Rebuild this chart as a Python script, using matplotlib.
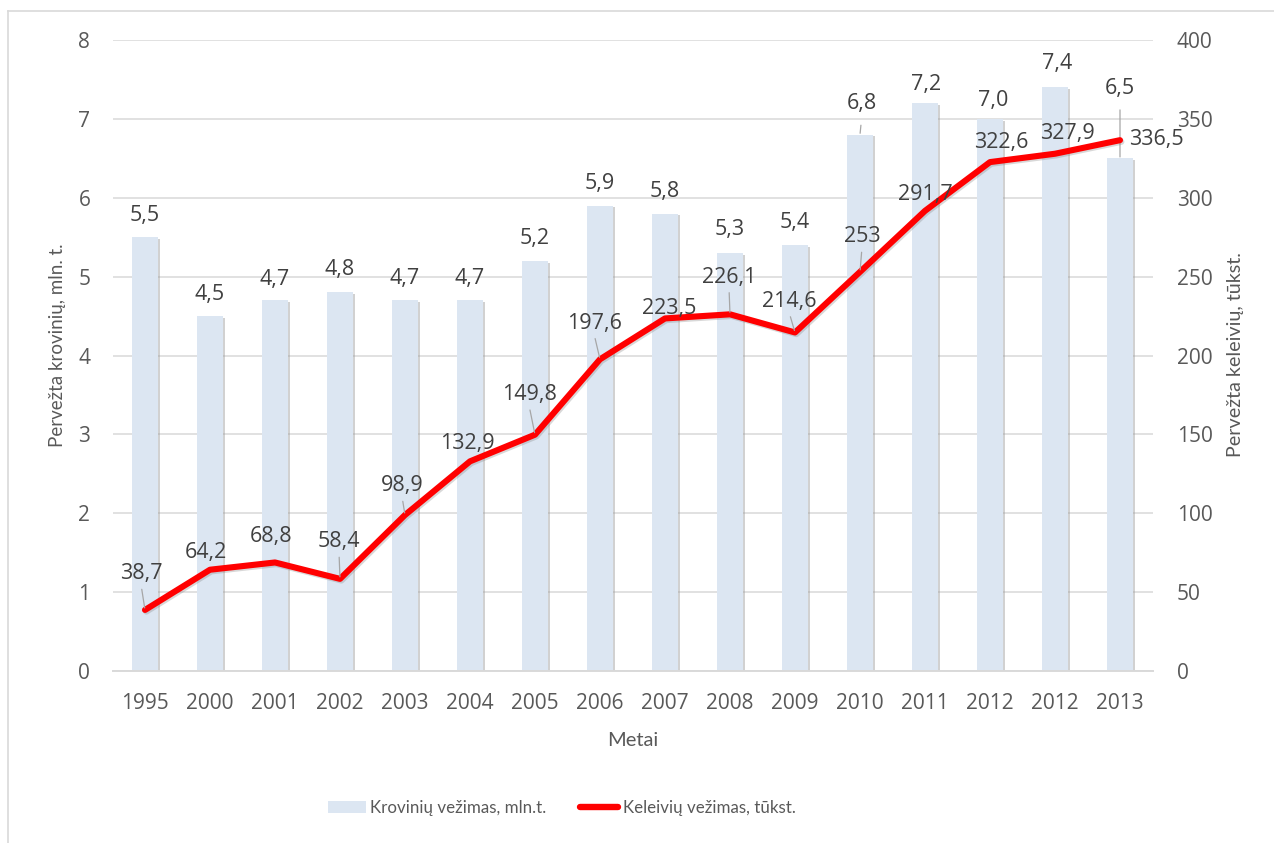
import matplotlib
matplotlib.use("Agg")
import matplotlib.pyplot as plt
from matplotlib.patches import Patch
from matplotlib.lines import Line2D
import matplotlib.patheffects as pe

# ---- data ----
years = ['1995', '2000', '2001', '2002', '2003', '2004', '2005', '2006',
         '2007', '2008', '2009', '2010', '2011', '2012', '2012', '2013']
cargo = [5.5, 4.5, 4.7, 4.8, 4.7, 4.7, 5.2, 5.9, 5.8, 5.3, 5.4, 6.8, 7.2, 7.0, 7.4, 6.5]
passengers = [38.7, 64.2, 68.8, 58.4, 98.9, 132.9, 149.8, 197.6, 223.5, 226.1,
              214.6, 253, 291.7, 322.6, 327.9, 336.5]
left_ticks = [0, 1, 2, 3, 4, 5, 6, 7, 8]
right_ticks = [0, 50, 100, 150, 200, 250, 300, 350, 400]

# ---- label placement (pixel offsets of text centre from the mark) ----
line_lbl_dx = [-4, -4, -4, -1, -3, -3, -6, -6, 4, -1, -6, 2, 0, 11, 12, 36]
line_lbl_dy = [38, 19, 28, 39, 31, 20, 42, 38, 12, 39, 33, 37, 18, 22, 22, 3]
line_leader = [1, 0, 0, 1, 1, 0, 1, 1, 0, 1, 1, 1, 0, 0, 0, 0]
bar_lbl_dx = [0, 0, 0, 0, 0, 0, 0, 0, 0, 0, 0, 2, 1, 3, 2, 0]
bar_lbl_dy = [24, 24, 23, 25, 24, 24, 24, 24, 24, 25, 25, 33, 21, 20, 26, 72]
bar_leader = [0, 0, 0, 0, 0, 0, 0, 0, 0, 0, 0, 1, 0, 0, 0, 1]

FONT = ['Open Sans', 'DejaVu Sans']
TFONT = ['Lato', 'Open Sans', 'DejaVu Sans']
plt.rcParams['font.family'] = FONT

W, H = 1274, 843
fig = plt.figure(figsize=(W / 100, H / 100), dpi=100)
fig.patch.set_facecolor('white')

ax = fig.add_axes([112.5 / W, 1 - 671 / H, (1152.5 - 112.5) / W, (671 - 40) / H])
ax2 = ax.twinx()

x = list(range(len(years)))
grid_c = '#d9d9d9'
tick_c = '#595959'
lbl_c = '#404040'

bars = ax.bar(x, cargo, width=0.41, color='#dce6f2', zorder=2,
              path_effects=[pe.SimplePatchShadow(offset=(1.2, -1.2), shadow_rgbFace='#9a9a9a', alpha=0.45),
                            pe.Normal()])

ax.set_xlim(-0.5, len(years) - 0.5)
ax.set_ylim(0, 8)
ax.set_yticks(left_ticks)
ax.set_yticklabels([str(t) for t in left_ticks])
ax.set_xticks(x)
ax.set_xticklabels(years)
ax.yaxis.grid(True, color=grid_c, lw=1.1, zorder=0)
ax.set_axisbelow(True)
for s in ['top', 'right', 'left']:
    ax.spines[s].set_visible(False)
    ax2.spines[s].set_visible(False)
ax.spines['bottom'].set_color(grid_c)
ax.spines['bottom'].set_linewidth(1.4)
ax2.spines['bottom'].set_visible(False)
ax.tick_params(axis='both', length=0, labelsize=15, labelcolor=tick_c)
ax.tick_params(axis='x', pad=16)
ax.tick_params(axis='y', pad=16)

ax2.set_ylim(0, 400)
ax2.set_yticks(right_ticks)
ax2.set_yticklabels([str(t) for t in right_ticks])
ax2.tick_params(axis='y', length=0, labelsize=15, labelcolor=tick_c, pad=17.5)

ax2.plot(x, passengers, color='#ff0000', lw=4.4, solid_capstyle='round',
         solid_joinstyle='round', zorder=5,
         path_effects=[pe.SimpleLineShadow(offset=(1.0, -1.2), shadow_color='#808080', alpha=0.3),
                       pe.Normal()])

def fmt(v, dec=None):
    s = f"{v:.{dec}f}" if dec is not None else f"{v:g}"
    return s.replace('.', ',')

# bar labels
for i, v in enumerate(cargo):
    kw = dict(xy=(i, v), xycoords='data', textcoords='offset pixels',
              xytext=(bar_lbl_dx[i], bar_lbl_dy[i] - 7.5), ha='center', va='baseline',
              fontsize=15.5, color=lbl_c, zorder=6)
    if bar_leader[i]:
        kw['arrowprops'] = dict(arrowstyle='-', color='#a6a6a6', lw=0.9,
                                shrinkA=6, shrinkB=1, relpos=(0.5, 0))
    ax.annotate(fmt(v, 1), **kw)

# line labels
for i, v in enumerate(passengers):
    kw = dict(xy=(i, v), xycoords='data', textcoords='offset pixels',
              xytext=(line_lbl_dx[i], line_lbl_dy[i] - 7.5), ha='center', va='baseline',
              fontsize=15.5, color=lbl_c, zorder=7)
    if line_leader[i]:
        kw['arrowprops'] = dict(arrowstyle='-', color='#a6a6a6', lw=0.9,
                                shrinkA=1.5, shrinkB=1.5, relpos=(0.5, 0))
    ax2.annotate(fmt(v), **kw)

# axis titles
fig.text(58 / W, 1 - 345 / H, 'Pervežta krovinių, mln. t.', rotation=90,
         ha='center', va='center', fontsize=13.5, color=tick_c, family=TFONT)
fig.text(1235 / W, 1 - 355 / H, 'Pervežta keleivių, tūkst.', rotation=90,
         ha='center', va='center', fontsize=14.2, color=tick_c, family=TFONT)
fig.text(633 / W, 1 - 740 / H, 'Metai', ha='center', va='center', fontsize=14.5,
         color=tick_c, family=TFONT)

# legend
handles = [Patch(facecolor='#dce6f2', edgecolor='none'),
           Line2D([0], [0], color='#ff0000', lw=4.6, solid_capstyle='round')]
labels = ['Krovinių vežimas, mln.t.', 'Keleivių vežimas, tūkst.']
leg = fig.legend(handles, labels, loc='center left', bbox_to_anchor=(328 / W, 1 - 808 / H),
                 ncol=2, frameon=False, prop=dict(family=TFONT, size=12.2),
                 handlelength=2.25, handleheight=0.77, handletextpad=0.24,
                 columnspacing=2.0, borderpad=0, borderaxespad=0)
for t in leg.get_texts():
    t.set_color(tick_c)

# chart border (top and left visible)
fig.add_artist(Line2D([8 / W, 1.0], [1 - 11 / H, 1 - 11 / H], color=grid_c, lw=1.2))
fig.add_artist(Line2D([8 / W, 8 / W], [1 - 11 / H, 0.0], color=grid_c, lw=1.2))

fig.savefig('out.png', dpi=100)
